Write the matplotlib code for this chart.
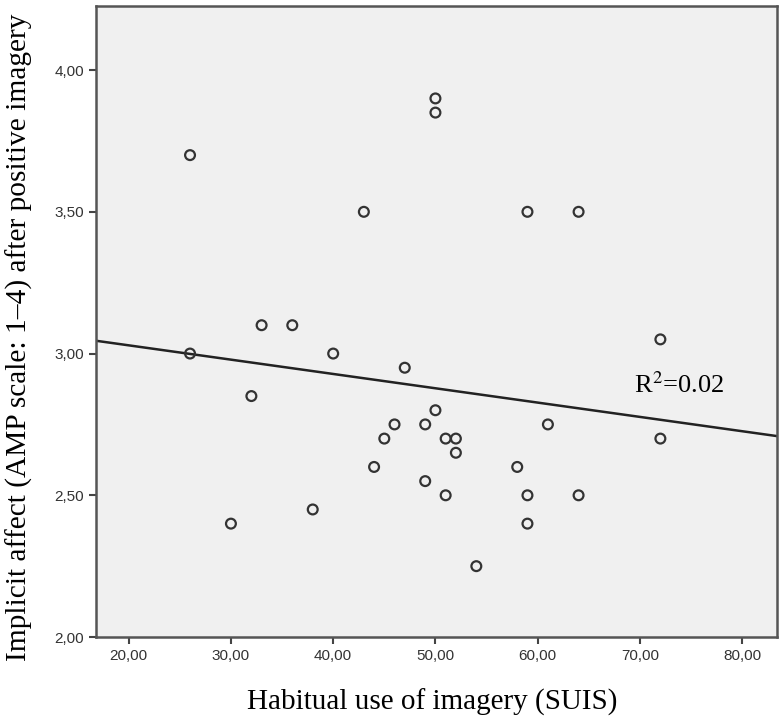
import numpy as np
import matplotlib.pyplot as plt

# habitual use of imagery (SUIS) vs implicit affect after positive imagery
suis = [26, 50, 50, 43, 59, 64, 33, 36, 26, 40, 47, 72, 32, 72,
        30, 38, 50, 46, 49, 61, 45, 51, 52, 52, 44, 58, 49, 51,
        59, 64, 59, 54]
affect = [3.70, 3.90, 3.85, 3.50, 3.50, 3.50, 3.10, 3.10, 3.00, 3.00, 2.95, 3.05, 2.85, 2.70,
          2.40, 2.45, 2.80, 2.75, 2.75, 2.75, 2.70, 2.70, 2.70, 2.65, 2.60, 2.60, 2.55, 2.50,
          2.50, 2.50, 2.40, 2.25]
# fit line as drawn (intercept, slope) and its R^2
fit_coef = [3.130, -0.00505]
r2_label = r"R$^2$=0.02"

xticks = [20, 30, 40, 50, 60, 70, 80]
yticks = [2.0, 2.5, 3.0, 3.5, 4.0]

fig = plt.figure(figsize=(7.84, 7.16), dpi=100)
ax = fig.add_axes([0.1224, 0.1103, 0.8686, 0.8813])
ax.set_facecolor('#f0f0f0')

ax.scatter(suis, affect, s=50, facecolors='none', edgecolors='#333333', linewidths=1.6, zorder=3)

xl = np.array([16.8, 83.4])
ax.plot(xl, fit_coef[0] + fit_coef[1] * xl, color='#222222', lw=1.8, zorder=2)
ax.text(73.8, 2.89, r2_label, fontsize=19, family='Liberation Serif', math_fontfamily='stix',
        ha='center', va='center')

ax.set_xlim(16.8, 83.4)
ax.set_ylim(2.0, 4.226)
ax.set_xticks(xticks)
ax.set_yticks(yticks)
ax.set_xticklabels([f"{v:.2f}".replace('.', ',') for v in xticks])
ax.set_yticklabels([f"{v:.2f}".replace('.', ',') for v in yticks])
ax.tick_params(direction='out', length=5, width=1.5, colors='#444444', labelsize=11, labelcolor='#333333')
for lab in ax.get_xticklabels() + ax.get_yticklabels():
    lab.set_family('Liberation Sans')
for sp in ax.spines.values():
    sp.set_color('#555555')
    sp.set_linewidth(1.8)

ax.set_xlabel("Habitual use of imagery (SUIS)", fontsize=21, family='Liberation Serif')
ax.set_ylabel("Implicit affect (AMP scale: 1\u20134) after positive imagery", fontsize=21.2,
              family='Liberation Serif')
ax.xaxis.set_label_coords(0.494, -0.082)
ax.yaxis.set_label_coords(-0.093, 0.475)

fig.savefig('out.png', dpi=100)
